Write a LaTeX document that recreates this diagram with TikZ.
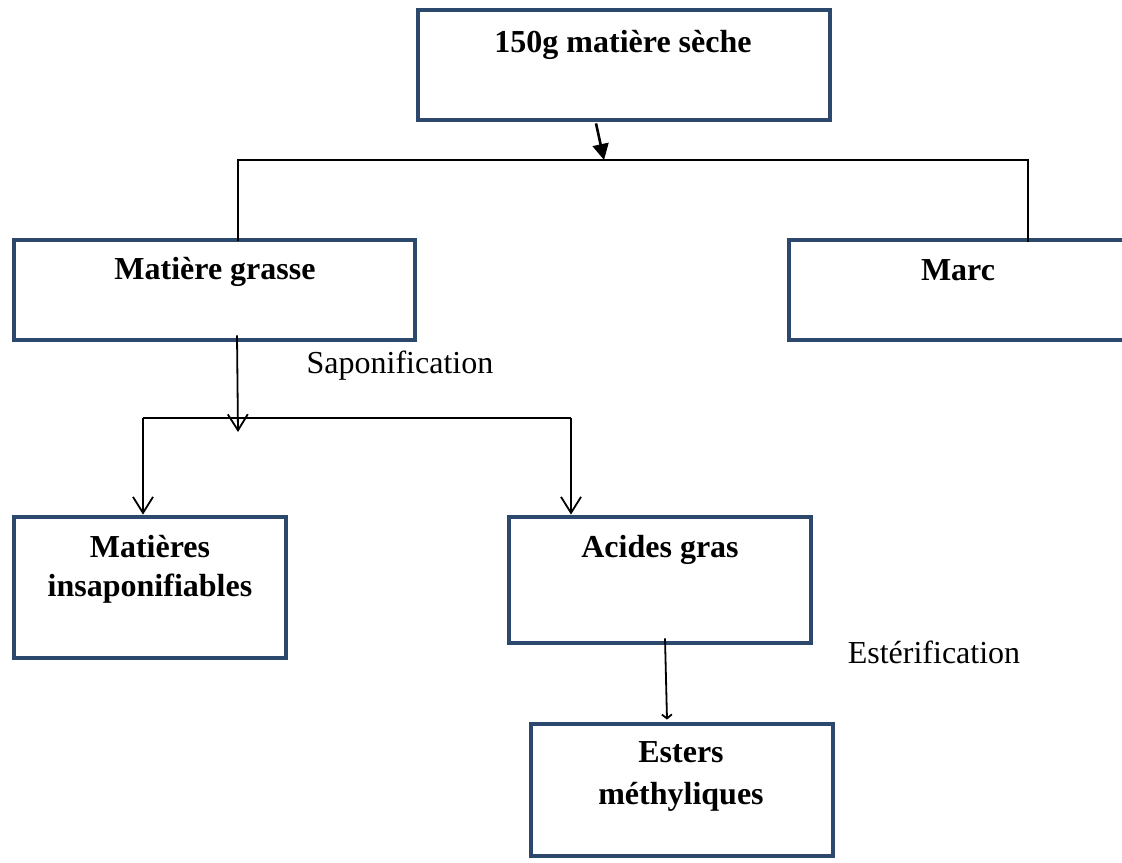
\documentclass[tikz,border=0pt]{standalone}
\usepackage{fontspec}
\setmainfont{Liberation Serif}
\usetikzlibrary{arrows.meta,positioning,calc}
\definecolor{boxblue}{RGB}{44,72,108}

\begin{document}
\begin{tikzpicture}[x=0.5pt,y=-0.5pt,
    every node/.style={font=\fontsize{16}{19.5}\selectfont},
    stepbox/.style={draw=boxblue,line width=2.4pt,inner sep=0pt},
    title/.style={font=\fontsize{16}{19.5}\selectfont\bfseries,align=center},
    link/.style={line width=0.9pt,black},
    open/.style={-{Straight Barb[length=8pt,width=10pt]}}]
                % page frame
                \useasboundingbox (0,0) rectangle (1122,862);
                \clip (0,0) rectangle (1122,862);

                % Dry matter
                \node[stepbox,minimum width=206pt,minimum height=55pt] (seche) at (624,65) {};
                \node[title] (seche-t) at (623,45) {150g matière sèche};

                % Fat and residue
                \node[stepbox,minimum width=200.5pt,minimum height=50pt] (grasse) at (214.5,290) {};
                \node[title] (grasse-t) at (215,272) {Matière grasse};
                \node[stepbox,minimum width=185.5pt,minimum height=50pt] (marc) at (974.5,290) {};
                \node[title] (marc-t) at (958,270) {Marc};

                % Saponification products
                \node[stepbox,minimum width=136pt,minimum height=70.5pt] (insap) at (150,587.5) {};
                \node[title] (insap-t) at (150,569) {Matières\\insaponifiables};
                \node[stepbox,minimum width=151pt,minimum height=63pt] (acides) at (660,580) {};
                \node[title] (acides-t) at (660,550) {Acides gras};

                % Esterification product
                \node[stepbox,minimum width=151pt,minimum height=66pt] (esters) at (682,790) {};
                \node[title] (esters-t) at (681,776) {Esters\\[1.5pt]méthyliques};

                % step labels
                \node (sapon) at (400,366) {Saponification};
                \node (ester) at (934,652) {Estérification};

                % first split
                \coordinate (j1) at (604,160);
                \coordinate (l1) at (238,160);
                \coordinate (r1) at (1028,160);
                \draw[link,line width=1.3pt,-{Triangle[length=8pt,width=8pt]}] ($(seche.south)+(-28,1)$) -- (j1);
                \draw[link,line width=0.75pt] ($(l1 |- grasse.north)+(0,3)$) -- (l1) -- (r1) -- ($(r1 |- marc.north)+(0,4)$);

                % second split
                \coordinate (j2) at (238,432);
                \coordinate (l2) at (143,418);
                \coordinate (r2) at (571,418);
                \draw[link,open] ($(grasse.south)+(22.5,-7)$) -- (j2);
                \draw[link] (l2) -- (r2);
                \draw[link,open] (l2) -- (l2 |- insap.north);
                \draw[link,open] (r2) -- (r2 |- acides.north);

                % esterification
                \draw[link,-{Straight Barb[length=2pt,width=5pt]}] ($(acides.south)+(5,-7)$) -- ($(esters.north)+(-15,-2)$);
\end{tikzpicture}
\end{document}
